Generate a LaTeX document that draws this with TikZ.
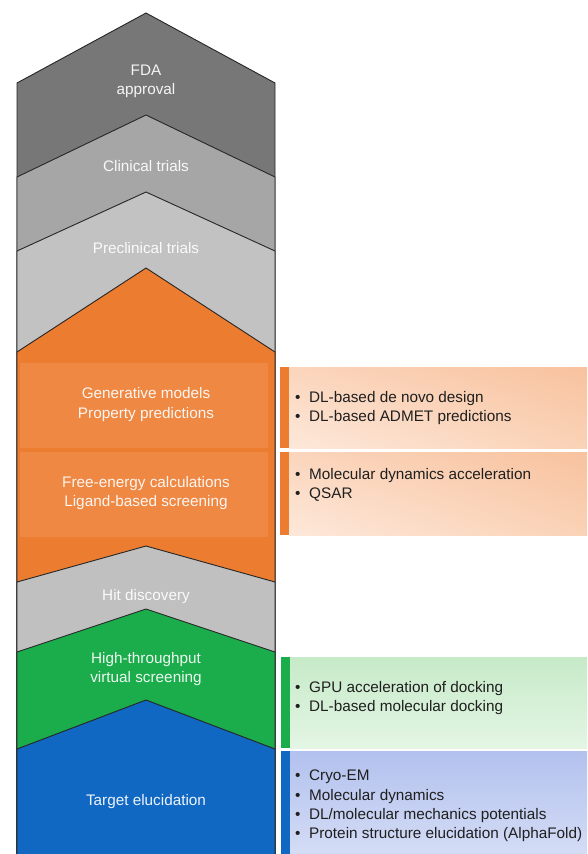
\documentclass[tikz,border=0pt]{standalone}
\usepackage{fontspec}
\setmainfont{Liberation Sans}
\usetikzlibrary{shadings}

% stage fills
\definecolor{fdagrey}{HTML}{777777}
\definecolor{clingrey}{HTML}{A6A6A6}
\definecolor{pregrey}{HTML}{C2C2C2}
\definecolor{devorange}{HTML}{EC7C30}
\definecolor{bandorange}{HTML}{EE8843}
\definecolor{hitgrey}{HTML}{C0C0C0}
\definecolor{screengreen}{HTML}{1BAC4B}
\definecolor{targetblue}{HTML}{1068C3}
% side panels
\definecolor{peachA}{HTML}{FBD5BC}
\definecolor{peachB}{HTML}{F8C29E}
\definecolor{peachC}{HTML}{FDE8DA}
\definecolor{peachD}{HTML}{FAD2B6}
\definecolor{mintA}{HTML}{C6EAC8}
\definecolor{mintB}{HTML}{E4F5E4}
\definecolor{skyA}{HTML}{B2C1EE}
\definecolor{skyB}{HTML}{D4DCF5}

% one pentagon stage: fill, apex y, shoulder y
\newcommand\stagechevron[3]{%
  \filldraw[stageedge, fill=#1] (17,#3) -- (146,#2) -- (275,#3) -- (275,870) -- (17,870) -- cycle;}

\begin{document}
\begin{tikzpicture}[x=1pt,y=-1pt,
  stageedge/.style={draw=black!85, line width=0.9pt, line join=miter},
  stagelabel/.style={anchor=mid, inner sep=0pt, font=\fontsize{15.3}{19}\selectfont, text=white, text opacity=0.92},
  itemline/.style={anchor=mid west, inner sep=0pt, font=\fontsize{15.3}{19}\selectfont, text=black!88},
]
\useasboundingbox (0,0) rectangle (587,854);
\clip (0,0) rectangle (587,854);

% stacked pipeline stages, top to bottom
\stagechevron{fdagrey}{13}{83}
\stagechevron{clingrey}{115}{177}
\stagechevron{pregrey}{192}{251}
\stagechevron{devorange}{268}{352}
\fill[bandorange] (20,363) rectangle (268,448);
\fill[bandorange] (20,452) rectangle (268,537);
\stagechevron{hitgrey}{546}{582}
\stagechevron{screengreen}{609}{652}
\stagechevron{targetblue}{700}{749}

% stage labels
\node[stagelabel] (fda1) at (146,73) {FDA};
\node[stagelabel] (fda2) at (146,92) {approval};
\node[stagelabel] (clin) at (146,169) {Clinical trials};
\node[stagelabel] (precl) at (146,251) {Preclinical trials};
\node[stagelabel] (gen1) at (146,396) {Generative models};
\node[stagelabel] (gen2) at (146,416) {Property predictions};
\node[stagelabel] (fe1) at (146,485) {Free-energy calculations};
\node[stagelabel] (fe2) at (146,504) {Ligand-based screening};
\node[stagelabel] (hit) at (146,598) {Hit discovery};
\node[stagelabel] (hts1) at (146,661) {High-throughput};
\node[stagelabel] (hts2) at (146,680) {virtual screening};
\node[stagelabel] (tgt) at (146,803) {Target elucidation};

% side panels with coloured bars
\shade[upper left=peachA, upper right=peachB, lower left=peachC, lower right=peachD] (289,367) rectangle (587,448);
\fill[devorange] (280,367) rectangle (289,448);
\shade[upper left=peachA, upper right=peachB, lower left=peachC, lower right=peachD] (289,452) rectangle (587,535);
\fill[devorange] (280,452) rectangle (289,535);
\shade[top color=mintA, bottom color=mintB] (290,657) rectangle (587,748);
\fill[screengreen] (281,657) rectangle (290,748);
\shade[top color=skyA, bottom color=skyB] (290,751) rectangle (587,854);
\fill[targetblue] (281,751) rectangle (290,854);

% panel items
\newcommand\itembullet{\makebox[14pt][l]{\textbullet}}
\node[itemline] (p1a) at (295,400) {\itembullet DL-based de novo design};
\node[itemline] (p1b) at (295,419) {\itembullet DL-based ADMET predictions};
\node[itemline] (p2a) at (295,477) {\itembullet Molecular dynamics acceleration};
\node[itemline] (p2b) at (295,496) {\itembullet QSAR};
\node[itemline] (p3a) at (295,690) {\itembullet GPU acceleration of docking};
\node[itemline] (p3b) at (295,709) {\itembullet DL-based molecular docking};
\node[itemline] (p4a) at (295,778) {\itembullet Cryo-EM};
\node[itemline] (p4b) at (295,798) {\itembullet Molecular dynamics};
\node[itemline] (p4c) at (295,817) {\itembullet DL/molecular mechanics potentials};
\node[itemline] (p4d) at (295,836) {\itembullet Protein structure elucidation (AlphaFold)};
\end{tikzpicture}
\end{document}
